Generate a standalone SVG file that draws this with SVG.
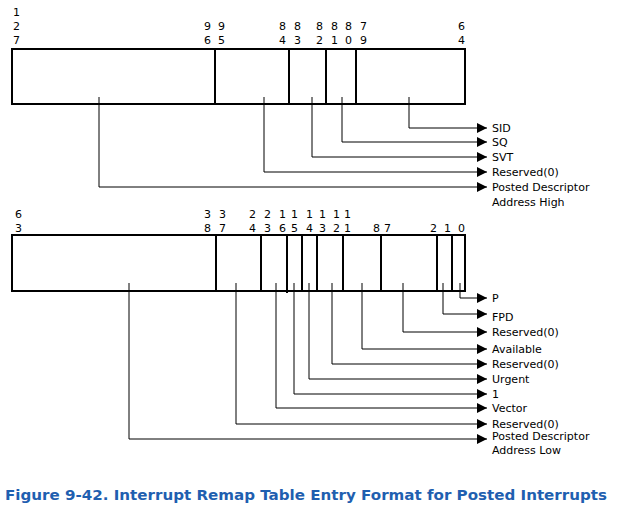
<svg xmlns="http://www.w3.org/2000/svg" width="621" height="508" viewBox="0 0 621 508">
<defs>
<marker id="ah" viewBox="0 0 10 10" refX="10" refY="5" markerWidth="12" markerHeight="10" markerUnits="userSpaceOnUse" orient="auto"><path d="M0,0 L10,5 L0,10 z" fill="#000"/></marker>
<style>
.box{fill:#fff;stroke:#000;stroke-width:2}
.div{stroke:#000;stroke-width:2}
.ld{fill:none;stroke:#000;stroke-width:1;marker-end:url(#ah)}
.b{font-family:"DejaVu Sans",sans-serif;font-size:11px;fill:#000}
.l{font-family:"DejaVu Sans",sans-serif;font-size:11px;fill:#000}
.cap{font-family:"DejaVu Sans",sans-serif;font-size:13.5px;font-weight:bold;fill:#1f5fb0}
</style>
</defs>
<g id="top-register">
<rect class="box" x="12" y="49" width="453" height="55"/>
<line class="div" x1="215" y1="49" x2="215" y2="104"/>
<line class="div" x1="289" y1="49" x2="289" y2="104"/>
<line class="div" x1="326" y1="49" x2="326" y2="104"/>
<line class="div" x1="356" y1="49" x2="356" y2="104"/>
<g class="b">
<text x="13" y="16">1</text><text x="13" y="30">2</text><text x="13" y="44">7</text>
<text x="204" y="30">9</text><text x="204" y="44">6</text>
<text x="218" y="30">9</text><text x="218" y="44">5</text>
<text x="279" y="30">8</text><text x="279" y="44">4</text>
<text x="294" y="30">8</text><text x="294" y="44">3</text>
<text x="316" y="30">8</text><text x="316" y="44">2</text>
<text x="331" y="30">8</text><text x="331" y="44">1</text>
<text x="345" y="30">8</text><text x="345" y="44">0</text>
<text x="360" y="30">7</text><text x="360" y="44">9</text>
<text x="458" y="30">6</text><text x="458" y="44">4</text>
</g>
</g>
<g id="bottom-register">
<rect class="box" x="12" y="235" width="453" height="56"/>
<line class="div" x1="216" y1="235" x2="216" y2="291"/>
<line class="div" x1="261" y1="235" x2="261" y2="291"/>
<line class="div" x1="287" y1="235" x2="287" y2="293"/>
<line class="div" x1="302" y1="235" x2="302" y2="291"/>
<line class="div" x1="317" y1="235" x2="317" y2="291"/>
<line class="div" x1="343" y1="235" x2="343" y2="291"/>
<line class="div" x1="381" y1="235" x2="381" y2="291"/>
<line class="div" x1="437" y1="235" x2="437" y2="291"/>
<line class="div" x1="452" y1="235" x2="452" y2="291"/>
<g class="b">
<text x="15" y="218">6</text><text x="15" y="232">3</text>
<text x="204" y="218">3</text><text x="204" y="232">8</text>
<text x="219" y="218">3</text><text x="219" y="232">7</text>
<text x="249" y="218">2</text><text x="249" y="232">4</text>
<text x="264" y="218">2</text><text x="264" y="232">3</text>
<text x="279" y="218">1</text><text x="279" y="232">6</text>
<text x="291" y="218">1</text><text x="291" y="232">5</text>
<text x="306" y="218">1</text><text x="306" y="232">4</text>
<text x="319" y="218">1</text><text x="319" y="232">3</text>
<text x="333" y="218">1</text><text x="333" y="232">2</text>
<text x="344" y="218">1</text><text x="344" y="232">1</text>
<text x="373" y="232">8</text>
<text x="384" y="232">7</text>
<text x="430" y="232">2</text>
<text x="444" y="232">1</text>
<text x="458" y="232">0</text>
</g>
</g>
<g id="connectors">
<path class="ld" d="M409,97 V128 H487"/>
<path class="ld" d="M342,97 V142 H487"/>
<path class="ld" d="M312,97 V157 H487"/>
<path class="ld" d="M264,97 V172 H487"/>
<path class="ld" d="M99,97 V187 H487"/>
<path class="ld" d="M460,283 V298 H487"/>
<path class="ld" d="M443,283 V314 H487"/>
<path class="ld" d="M403,283 V332 H487"/>
<path class="ld" d="M362,283 V349 H487"/>
<path class="ld" d="M332,283 V364 H487"/>
<path class="ld" d="M309,283 V379 H487"/>
<path class="ld" d="M294,283 V394 H487"/>
<path class="ld" d="M276,283 V408 H487"/>
<path class="ld" d="M236,283 V424 H487"/>
<path class="ld" d="M129,283 V439 H487"/>
</g>
<g id="labels" class="l">
<text x="492" y="132">SID</text>
<text x="492" y="146">SQ</text>
<text x="492" y="161">SVT</text>
<text x="492" y="176">Reserved(0)</text>
<text x="492" y="191">Posted Descriptor</text>
<text x="492" y="206">Address High</text>
<text x="492" y="302">P</text>
<text x="492" y="321">FPD</text>
<text x="492" y="336">Reserved(0)</text>
<text x="492" y="353">Available</text>
<text x="492" y="368">Reserved(0)</text>
<text x="492" y="383">Urgent</text>
<text x="492" y="398">1</text>
<text x="492" y="412">Vector</text>
<text x="492" y="428">Reserved(0)</text>
<text x="492" y="440">Posted Descriptor</text>
<text x="492" y="454">Address Low</text>
</g>
<text class="cap" x="5" y="500" textLength="602" lengthAdjust="spacingAndGlyphs">Figure 9-42.  Interrupt Remap Table Entry Format for Posted Interrupts</text>
</svg>
